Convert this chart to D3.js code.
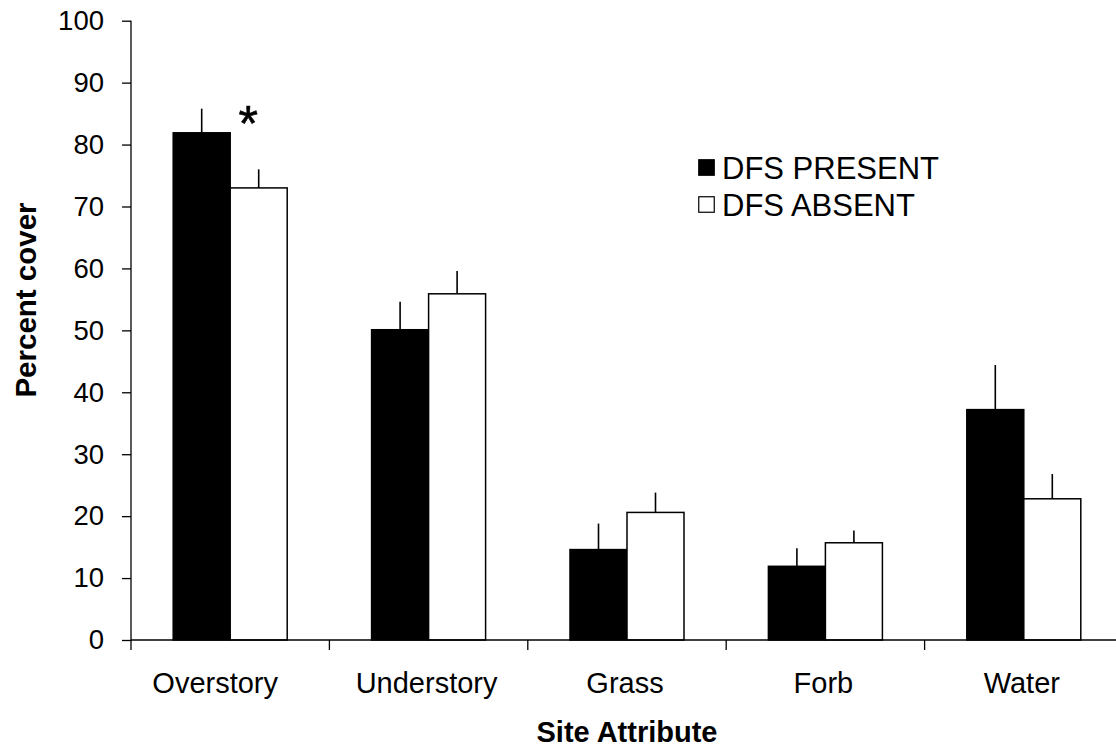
<!DOCTYPE html>
<html>
<head>
<meta charset="utf-8">
<script src="https://cdn.jsdelivr.net/npm/d3@7"></script>
<style>
  html, body { margin: 0; padding: 0; background: #fff; }
  svg { display: block; font-family: Arial, "Liberation Sans", Helvetica, sans-serif; }
</style>
</head>
<body>
<svg id="chart" width="1116" height="747"></svg>
<script>
// Site attributes measured at each plot
const categories = ["Overstory", "Understory", "Grass", "Forb", "Water"];
const seriesNames = ["DFS PRESENT", "DFS ABSENT"];
// Mean percent cover
const presentMeans = [81.9, 50.1, 14.6, 11.9, 37.2];
const absentMeans  = [73.0, 55.9, 20.6, 15.7, 22.8];
// Standard errors (drawn upward only)
const presentSE = [3.9, 4.5, 4.2, 2.9, 7.2];
const absentSE  = [3.0, 3.7, 3.2, 2.0, 4.0];
// Categories with a significant difference
const significant = ["Overstory"];
const yTicks = [0, 10, 20, 30, 40, 50, 60, 70, 80, 90, 100];

const fills = ["#000000", "#ffffff"];

const svg = d3.select("#chart");
const plotLeft = 131, plotRight = 1123, plotTop = 20.7, plotBottom = 640;

const x = d3.scaleBand().domain(categories).range([plotLeft, plotRight]).padding(0);
const bw = 57;
const inner = d3.scaleBand().domain(seriesNames)
  .range([(x.bandwidth() - 2 * bw) / 2, (x.bandwidth() + 2 * bw) / 2]).padding(0);
const y = d3.scaleLinear().domain([0, 100]).range([plotBottom, plotTop]);

const rows = categories.map((c, i) => ({
  cat: c,
  vals: [
    { s: seriesNames[0], v: presentMeans[i], e: presentSE[i], f: fills[0] },
    { s: seriesNames[1], v: absentMeans[i],  e: absentSE[i],  f: fills[1] }
  ]
}));

// Bars
const groups = svg.append("g").selectAll("g").data(rows).join("g")
  .attr("transform", d => `translate(${x(d.cat)},0)`);

groups.selectAll("rect").data(d => d.vals).join("rect")
  .attr("x", d => inner(d.s))
  .attr("y", d => y(d.v))
  .attr("width", inner.bandwidth())
  .attr("height", d => y(0) - y(d.v))
  .attr("fill", d => d.f)
  .attr("stroke", "#000")
  .attr("stroke-width", 1.5);

// Error bars (upper whisker, no caps)
groups.selectAll("line.err").data(d => d.vals).join("line")
  .attr("class", "err")
  .attr("x1", d => inner(d.s) + inner.bandwidth() / 2)
  .attr("x2", d => inner(d.s) + inner.bandwidth() / 2)
  .attr("y1", d => y(d.v))
  .attr("y2", d => y(d.v + d.e))
  .attr("stroke", "#000")
  .attr("stroke-width", 1.6);

// Significance marker above the absent bar
svg.append("g").selectAll("text").data(rows.filter(r => significant.includes(r.cat))).join("text")
  .attr("x", d => x(d.cat) + inner(seriesNames[1]) + 18)
  .attr("y", d => y(d.vals[0].v + d.vals[0].e) + 32)
  .attr("text-anchor", "middle")
  .attr("font-size", 50)
  .attr("stroke", "#000")
  .attr("stroke-width", 0.6)
  .text("*");

// Y axis
const yAxis = svg.append("g").attr("transform", `translate(${plotLeft},0)`)
  .call(d3.axisLeft(y).tickValues(yTicks).tickSize(9).tickPadding(18).tickFormat(d3.format("d")));
yAxis.select(".domain").attr("d", `M0,${plotTop}V${plotBottom}`).attr("stroke-width", 1.3);
yAxis.selectAll(".tick line").attr("stroke-width", 1.3);
yAxis.selectAll("text").attr("font-size", 27.5).attr("fill", "#000").attr("font-family", "Arial, 'Liberation Sans', sans-serif");

// X axis with ticks at category boundaries
const xg = svg.append("g").attr("transform", `translate(0,${plotBottom})`);
xg.append("line").attr("x1", plotLeft).attr("x2", plotRight).attr("stroke", "#000").attr("stroke-width", 1.3);
xg.selectAll("line.tk").data(categories).join("line")
  .attr("class", "tk")
  .attr("x1", d => x(d)).attr("x2", d => x(d))
  .attr("y1", 0).attr("y2", 10)
  .attr("stroke", "#000").attr("stroke-width", 1.3);
xg.selectAll("text").data(categories).join("text")
  .attr("x", d => x(d) + x.bandwidth() / 2)
  .attr("dx", (d, i) => i === 0 ? -15 : -2)
  .attr("y", 53)
  .attr("text-anchor", "middle")
  .attr("font-size", 29)
  .text(d => d);

// Axis titles
svg.append("text")
  .attr("x", (plotLeft + plotRight) / 2).attr("y", 742)
  .attr("text-anchor", "middle").attr("font-size", 29).attr("font-weight", "bold")
  .text("Site Attribute");
svg.append("text")
  .attr("transform", `translate(36,${300}) rotate(-90)`)
  .attr("text-anchor", "middle").attr("font-size", 29.5).attr("font-weight", "bold")
  .text("Percent cover");

// Legend
const legend = svg.append("g").attr("transform", "translate(698,159)");
const li = legend.selectAll("g").data(seriesNames).join("g")
  .attr("transform", (d, i) => `translate(0,${i * 37})`);
li.append("rect").attr("x", 0.75).attr("y", 0.75).attr("width", 15.5).attr("height", 15.5)
  .attr("fill", (d, i) => fills[i]).attr("stroke", "#000").attr("stroke-width", 1.2);
li.append("text").attr("x", 24).attr("y", 20).attr("font-size", 31).text(d => d);
</script>
</body>
</html>
